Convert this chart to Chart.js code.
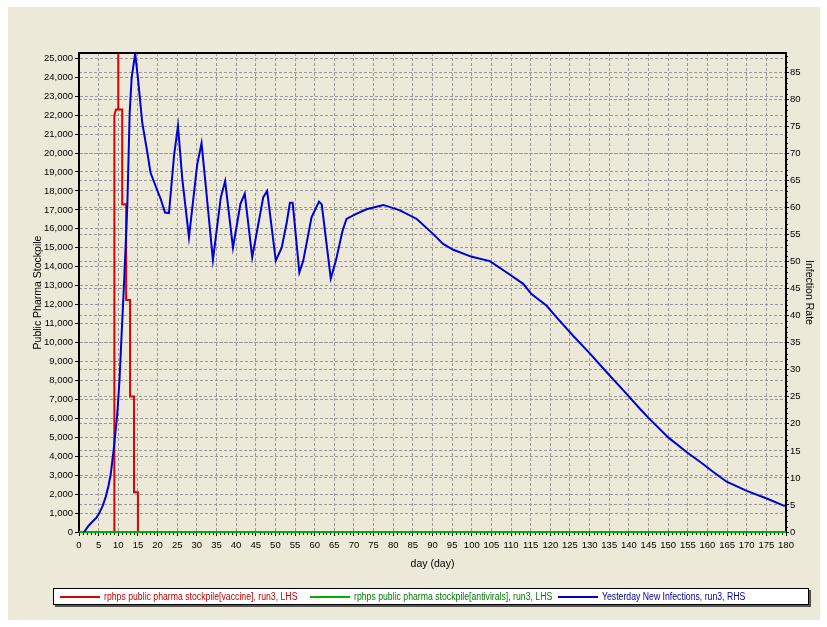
<!DOCTYPE html>
<html>
<head>
<meta charset="utf-8">
<title>Public Pharma Stockpile</title>
<script src="https://cdn.jsdelivr.net/npm/chart.js@4"></script>
<style>
  body { margin: 0; background: #fff; }
  #panel { position: absolute; left: 8px; top: 7px; width: 812px; height: 613px; background: #ece9d8; }
  #chart { position: absolute; left: 0; top: 0; }
  #legend { position: absolute; left: 53px; top: 588px; width: 754px; height: 15px; background: #fff;
            border: 1px solid #000; box-shadow: 2px 2px 0 #555;
            font: 10px 'Liberation Sans', Arial, sans-serif; }
  .item { position: absolute; top: 0; height: 15px; line-height: 15px; white-space: nowrap; }
  .item i { display: inline-block; width: 40px; height: 2px; vertical-align: middle; margin-right: 4px; }
  .item b { display: inline-block; font-weight: normal; transform: scaleX(0.87); transform-origin: left center; }
</style>
</head>
<body>
<div id="panel"></div>
<canvas id="chart" width="827" height="627"></canvas>
<div id="legend"></div>

<script>
// Yesterday New Infections (RHS)
const infectionDays = [1.3, 2.5, 3.4, 4.5, 5.1, 6, 6.8, 7.5, 8.1, 8.9, 9.75, 10.3, 10.9, 11.5, 12.3, 12.9, 13.4, 14.3, 15,
  16.1, 17.4, 18.2, 19.5, 20.8, 21.9, 22.9, 24.2, 25.2, 26.3, 28, 30.1, 31.2, 32.1, 34.1, 36.1, 37.2, 39.2, 41.1, 42.2,
  44.1, 46.9, 47.9, 50.1, 51.6, 52.9, 53.7, 54.4, 56.1, 57.1, 59.2, 61.1, 61.8, 64.1, 65.4, 67.1, 68.1, 70.7, 73.2,
  77.5, 81.7, 86, 90.2, 92.7, 95.3, 100, 104.6, 108.9, 113.1, 115.2, 119, 121.6, 125.8, 130.1, 134.3, 138.6, 142.8,
  145, 150, 155, 158.1, 161.5, 164.9, 170, 175.1, 179.7];
const newInfections = [0, 1.2, 1.9, 2.7, 3.4, 4.8, 6.5, 8.5, 10.8, 15.7, 21.9, 28, 37.3, 46.5, 60.3, 77.5, 84, 88.5, 84,
  75.7, 70.2, 66.5, 64, 61.6, 59.1, 59.0, 69.6, 75.1, 65.3, 54.5, 68, 71.9, 65.3, 50.3, 61.9, 64.9, 52.6, 60.7, 62.6,
  50.8, 61.9, 63.1, 50.2, 52.6, 57.3, 60.9, 60.9, 48.0, 50.2, 58.2, 61.1, 60.6, 46.9, 50.2, 55.7, 57.9, 58.9, 59.7,
  60.5, 59.5, 57.9, 55.1, 53.3, 52.2, 50.9, 50.1, 48.0, 45.9, 44.0, 41.9, 39.7, 36.3, 33.0, 29.6, 26.2, 22.8,
  21.1, 17.5, 14.6, 13.0, 11.1, 9.3, 7.6, 6.2, 4.8];

// vaccine stockpile (LHS), a step series
const vaccineDays  = [0, 9, 9, 9.4, 10, 10, 10, 11, 11, 12, 12, 13, 13, 14, 14, 15, 15, 180];
const vaccineStock = [0, 0, 22000, 22300, 22300, 60000, 22300, 22300, 17300, 17300, 12250, 12250, 7150, 7150, 2100, 2100, 0, 0];

// antiviral stockpile (LHS), flat at zero
const antiviralDays  = [0, 180];
const antiviralStock = [0, 0];

// tick labels
const dayTicks = [0, 5, 10, 15, 20, 25, 30, 35, 40, 45, 50, 55, 60, 65, 70, 75, 80, 85, 90, 95, 100, 105, 110, 115,
  120, 125, 130, 135, 140, 145, 150, 155, 160, 165, 170, 175, 180];
const stockTicks = [0, 1000, 2000, 3000, 4000, 5000, 6000, 7000, 8000, 9000, 10000, 11000, 12000, 13000, 14000,
  15000, 16000, 17000, 18000, 19000, 20000, 21000, 22000, 23000, 24000, 25000];
const rateTicks = [0, 5, 10, 15, 20, 25, 30, 35, 40, 45, 50, 55, 60, 65, 70, 75, 80, 85];

// axis ranges
const dayRange = [0, 180];
const stockRange = [0, 25280];
const rateRange = [0, 88.6];

const seriesLabels = [
  'rphps public pharma stockpile[vaccine], run3, LHS',
  'rphps public pharma stockpile[antivirals], run3, LHS',
  'Yesterday New Infections, run3, RHS'
];
const seriesColors = ['#e00000', '#00b000', '#0000d0'];
const legendText = ['#c00000', '#007a00', '#0000a0'];

const toXY = (xs, ys) => xs.map((x, i) => ({ x: x, y: ys[i] }));
const useTicks = list => s => { s.ticks = list.map(v => ({ value: v })); };

const tickFont = { family: "'Liberation Sans', Arial, sans-serif", size: 9.5 };
const titleFont = { family: "'Liberation Sans', Arial, sans-serif", size: 10.5 };
const gridStyle = { color: '#9a9a9a', lineWidth: 1, tickLength: 4, tickColor: '#000', tickBorderDash: [] };
const border = { color: '#000', width: 2, dash: [3, 2] };

// minor ticks and the top edge of the plot frame
const frame = {
  id: 'frame',
  afterDraw(chart) {
    const { ctx, chartArea: a, scales } = chart;
    ctx.save();
    ctx.strokeStyle = '#000';
    ctx.lineWidth = 1;
    ctx.beginPath();
    for (let d = scales.x.min + 1; d < scales.x.max; d++) {
      if (d % 5 === 0) continue;
      const px = Math.round(scales.x.getPixelForValue(d)) + 0.5;
      ctx.moveTo(px, a.bottom + 1);
      ctx.lineTo(px, a.bottom + 3);
    }
    for (let v = 1; v < scales.yR.max; v++) {
      if (v % 5 === 0) continue;
      const py = Math.round(scales.yR.getPixelForValue(v)) + 0.5;
      ctx.moveTo(a.right, py);
      ctx.lineTo(a.right + 2, py);
    }
    ctx.stroke();
    ctx.lineWidth = 2;
    ctx.beginPath();
    ctx.moveTo(a.left, a.top);
    ctx.lineTo(a.right, a.top);
    ctx.stroke();
    ctx.restore();
  }
};

new Chart(document.getElementById('chart'), {
  type: 'line',
  data: {
    datasets: [
      { label: seriesLabels[0], data: toXY(vaccineDays, vaccineStock), yAxisID: 'yL', borderColor: seriesColors[0], order: 3 },
      { label: seriesLabels[1], data: toXY(antiviralDays, antiviralStock), yAxisID: 'yL', borderColor: seriesColors[1], order: 2, clip: 3 },
      { label: seriesLabels[2], data: toXY(infectionDays, newInfections), yAxisID: 'yR', borderColor: seriesColors[2], order: 1 }
    ]
  },
  options: {
    responsive: false,
    animation: false,
    locale: 'en-US',
    elements: { point: { radius: 0 }, line: { borderWidth: 2, tension: 0, fill: false } },
    layout: { padding: { top: 53, left: 0, right: 0, bottom: 0 } },
    plugins: { legend: { display: false }, tooltip: { enabled: false } },
    scales: {
      x: {
        type: 'linear', min: dayRange[0], max: dayRange[1],
        afterBuildTicks: useTicks(dayTicks),
        ticks: { font: tickFont, color: '#000', padding: 4, maxRotation: 0, autoSkip: false },
        grid: gridStyle, border: { display: false, dash: [3, 2] },
        title: { display: true, text: 'day (day)', font: titleFont, color: '#000', padding: { top: 0, bottom: 57 } },
        afterFit: s => { s.height = 95; }
      },
      yL: {
        position: 'left', min: stockRange[0], max: stockRange[1],
        afterBuildTicks: useTicks(stockTicks),
        ticks: { font: tickFont, color: '#000', padding: 2, autoSkip: false },
        grid: gridStyle, border: border,
        title: { display: true, text: 'Public Pharma Stockpile', font: titleFont, color: '#000', padding: { top: 32, bottom: 0 } },
        afterFit: s => { s.width = 79; }
      },
      yR: {
        position: 'right', min: rateRange[0], max: rateRange[1],
        afterBuildTicks: useTicks(rateTicks),
        ticks: { font: tickFont, color: '#000', padding: 1, autoSkip: false },
        grid: Object.assign({}, gridStyle, { tickLength: 3 }), border: border,
        title: { display: true, text: 'Infection Rate', font: titleFont, color: '#000', padding: { top: 12, bottom: 0 } },
        afterFit: s => { s.width = 41; }
      }
    }
  },
  plugins: [frame]
});

// boxed legend under the plot
const legendLeft = [6, 256, 504];
const legend = document.getElementById('legend');
seriesLabels.forEach((label, i) => {
  const item = document.createElement('span');
  item.className = 'item';
  item.style.left = legendLeft[i] + 'px';
  item.style.color = legendText[i];
  const swatch = document.createElement('i');
  swatch.style.background = seriesColors[i];
  const text = document.createElement('b');
  text.textContent = label;
  item.appendChild(swatch);
  item.appendChild(text);
  legend.appendChild(item);
});
</script>
</body>
</html>
